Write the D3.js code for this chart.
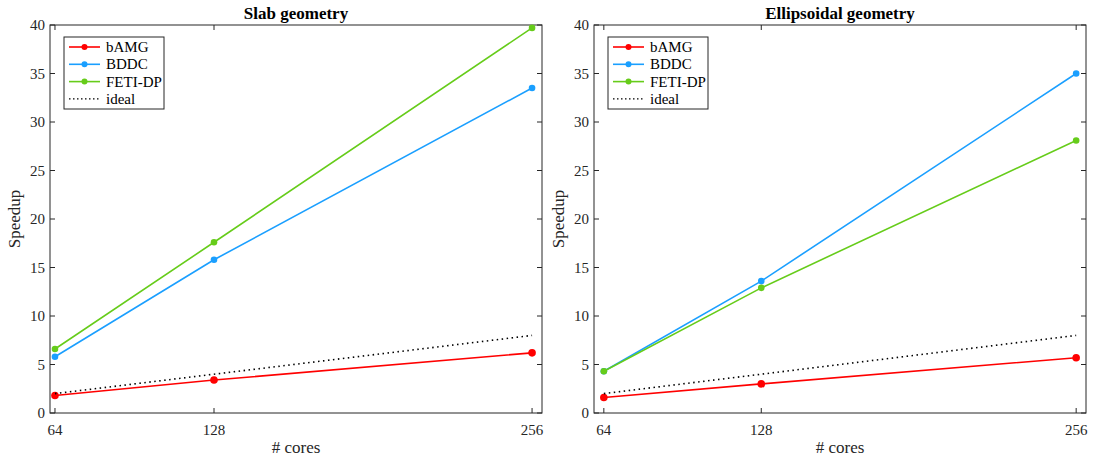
<!DOCTYPE html>
<html>
<head>
<meta charset="utf-8">
<script src="https://cdn.jsdelivr.net/npm/d3@7"></script>
<style>
  body { margin: 0; background: #fff; }
  svg text { font-family: 'Liberation Serif', Tinos, 'Times New Roman', Times, 'DejaVu Serif', serif; }
</style>
</head>
<body>
<div id="chart"></div>
<script>
// data
const cores = [64, 128, 256];
const xTicks = [64, 128, 256];
const yTicks = [0, 5, 10, 15, 20, 25, 30, 35, 40];
const methods = ["bAMG", "BDDC", "FETI-DP", "ideal"];
const colors = ["#ff0000", "#1a9fff", "#66cc1a", "#000000"];

const slabAMG = [1.8, 3.4, 6.2];
const slabBDDC = [5.8, 15.8, 33.5];
const slabFETI = [6.6, 17.6, 39.7];
const ellAMG = [1.6, 3.0, 5.7];
const ellBDDC = [4.3, 13.6, 35.0];
const ellFETI = [4.3, 12.9, 28.1];
const ideal = [2, 4, 8];

const panels = [
  { title: "Slab geometry", left: 50, right: 542, xmin: 62, series: [slabAMG, slabBDDC, slabFETI, ideal] },
  { title: "Ellipsoidal geometry", left: 594, right: 1086, xmin: 60, series: [ellAMG, ellBDDC, ellFETI, ideal] }
];

const width = 1096, height = 459;
const plotTop = 25, plotBottom = 413;

const svg = d3.select("#chart").append("svg")
  .attr("width", width)
  .attr("height", height);

const y = d3.scaleLinear().domain([0, 40]).range([plotBottom, plotTop]);

panels.forEach(p => {
  const x = d3.scaleLinear().domain([p.xmin, 260]).range([p.left, p.right]);
  const g = svg.append("g");

  // ticks (inward, on all four sides)
  const tl = 5;
  xTicks.forEach(t => {
    g.append("line").attr("x1", x(t)).attr("x2", x(t)).attr("y1", plotBottom).attr("y2", plotBottom - tl)
      .attr("stroke", "#262626");
    g.append("line").attr("x1", x(t)).attr("x2", x(t)).attr("y1", plotTop).attr("y2", plotTop + tl)
      .attr("stroke", "#262626");
    g.append("text").attr("x", x(t)).attr("y", plotBottom + 22)
      .attr("text-anchor", "middle").attr("font-size", 15).attr("fill", "#262626").text(t);
  });
  yTicks.forEach(t => {
    g.append("line").attr("x1", p.left).attr("x2", p.left + tl).attr("y1", y(t)).attr("y2", y(t))
      .attr("stroke", "#262626");
    g.append("line").attr("x1", p.right).attr("x2", p.right - tl).attr("y1", y(t)).attr("y2", y(t))
      .attr("stroke", "#262626");
    g.append("text").attr("x", p.left - 5).attr("y", y(t) + 5)
      .attr("text-anchor", "end").attr("font-size", 15).attr("fill", "#262626").text(t);
  });

  // box
  g.append("rect").attr("x", p.left).attr("y", plotTop)
    .attr("width", p.right - p.left).attr("height", plotBottom - plotTop)
    .attr("fill", "none").attr("stroke", "#262626").attr("stroke-width", 1);

  // series
  const line = d3.line().x((d, i) => x(cores[i])).y(d => y(d));
  p.series.forEach((s, k) => {
    if (k === 3) {
      g.append("path").attr("d", line(s)).attr("fill", "none")
        .attr("stroke", "#000").attr("stroke-width", 1.6).attr("stroke-dasharray", "1.5,3.5");
      return;
    }
    g.append("path").attr("d", line(s)).attr("fill", "none")
      .attr("stroke", colors[k]).attr("stroke-width", 1.6);
    g.selectAll(null).data(s).enter().append("circle")
      .attr("cx", (d, i) => x(cores[i])).attr("cy", d => y(d))
      .attr("r", k === 0 ? 3.8 : 3.3).attr("fill", colors[k]);
  });

  // title and labels
  const cx = (p.left + p.right) / 2;
  g.append("text").attr("x", cx).attr("y", 19).attr("text-anchor", "middle")
    .attr("font-size", 17).attr("font-weight", "bold").text(p.title);
  g.append("text").attr("x", cx).attr("y", 453).attr("text-anchor", "middle")
    .attr("font-size", 17).attr("fill", "#262626").text("# cores");
  g.append("text").attr("transform", `translate(${p.left - 30},${(plotTop + plotBottom) / 2}) rotate(-90)`)
    .attr("text-anchor", "middle").attr("font-size", 17).attr("fill", "#262626").text("Speedup");

  // legend
  const lx = p.left + 14, ly = 37;
  const leg = g.append("g");
  leg.append("rect").attr("x", lx).attr("y", ly).attr("width", 100).attr("height", 72)
    .attr("fill", "#fff").attr("stroke", "#262626").attr("stroke-width", 1);
  methods.forEach((m, k) => {
    const yy = ly + 10 + k * 17.3;
    leg.append("line").attr("x1", lx + 5).attr("x2", lx + 36).attr("y1", yy).attr("y2", yy)
      .attr("stroke", colors[k]).attr("stroke-width", k === 3 ? 1.4 : 1.6)
      .attr("stroke-dasharray", k === 3 ? "1.5,2.5" : null);
    if (k < 3) {
      leg.append("circle").attr("cx", lx + 20.5).attr("cy", yy).attr("r", 3).attr("fill", colors[k]);
    }
    leg.append("text").attr("x", lx + 42).attr("y", yy + 5).attr("font-size", 15)
      .attr("fill", "#000").text(m);
  });
});
</script>
</body>
</html>
